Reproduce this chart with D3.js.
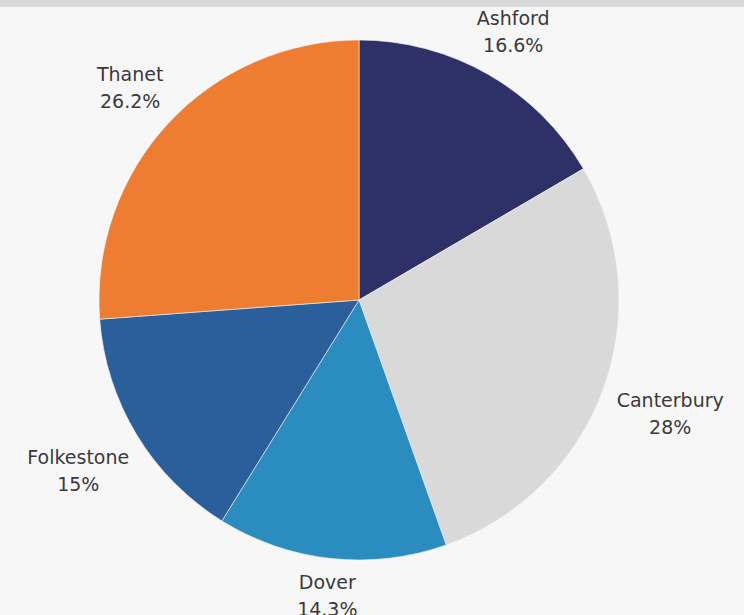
<!DOCTYPE html>
<html>
<head>
<meta charset="utf-8">
<script src="https://cdn.jsdelivr.net/npm/d3@7"></script>
<style>
  html, body { margin: 0; padding: 0; background: #f7f7f7; }
  svg { display: block; }
</style>
</head>
<body>
<svg id="chart" width="744" height="615"></svg>
<script>
const categories = ["Ashford", "Canterbury", "Dover", "Folkestone", "Thanet"];
const values = [16.6, 28, 14.3, 15, 26.2];
const valueLabels = ["16.6%", "28%", "14.3%", "15%", "26.2%"];
const colors = ["#2e3168", "#d9d9d9", "#2b8cbf", "#2a5f9b", "#ef7d31"];

const W = 744, H = 615;
const cx = 359, cy = 300, r = 260;
const svg = d3.select("#chart");

svg.append("rect").attr("width", W).attr("height", H).attr("fill", "#f7f7f7");
svg.append("rect").attr("width", W).attr("height", 7).attr("fill", "#d9d9d9");

const data = categories.map((c, i) => ({ name: c, value: values[i], label: valueLabels[i], color: colors[i] }));
const pie = d3.pie().value(d => d.value).sort(null);
const arc = d3.arc().innerRadius(0).outerRadius(r);
const arcs = pie(data);

const g = svg.append("g").attr("transform", `translate(${cx},${cy})`);
g.selectAll("path.slice").data(arcs).enter().append("path")
  .attr("class", "slice")
  .attr("d", arc)
  .attr("fill", d => d.data.color)
  .attr("stroke", "#f7f7f7")
  .attr("stroke-width", 0.6);

const lineGap = 27;
const labels = g.selectAll("g.label").data(arcs).enter().append("g").attr("class", "label");
labels.each(function(d) {
  const sel = d3.select(this);
  const t1 = sel.append("text").text(d.data.name);
  const t2 = sel.append("text").text(d.data.label);
  sel.selectAll("text")
    .attr("text-anchor", "middle")
    .attr("dominant-baseline", "central")
    .attr("font-family", "'DejaVu Sans', sans-serif")
    .attr("font-size", 19)
    .attr("fill", "#3a3a3a");
  const w = Math.max(t1.node().getComputedTextLength(), t2.node().getComputedTextLength());
  const a = w / 2, b = lineGap / 2 + 7;
  const ang = (d.startAngle + d.endAngle) / 2;
  const s = Math.sin(ang), c = Math.cos(ang);
  const rho = r + 14 + a * Math.abs(s) + b * Math.abs(c);
  const x = rho * s, y = -rho * c;
  t1.attr("x", x).attr("y", y - lineGap / 2);
  t2.attr("x", x).attr("y", y + lineGap / 2);
});
</script>
</body>
</html>
